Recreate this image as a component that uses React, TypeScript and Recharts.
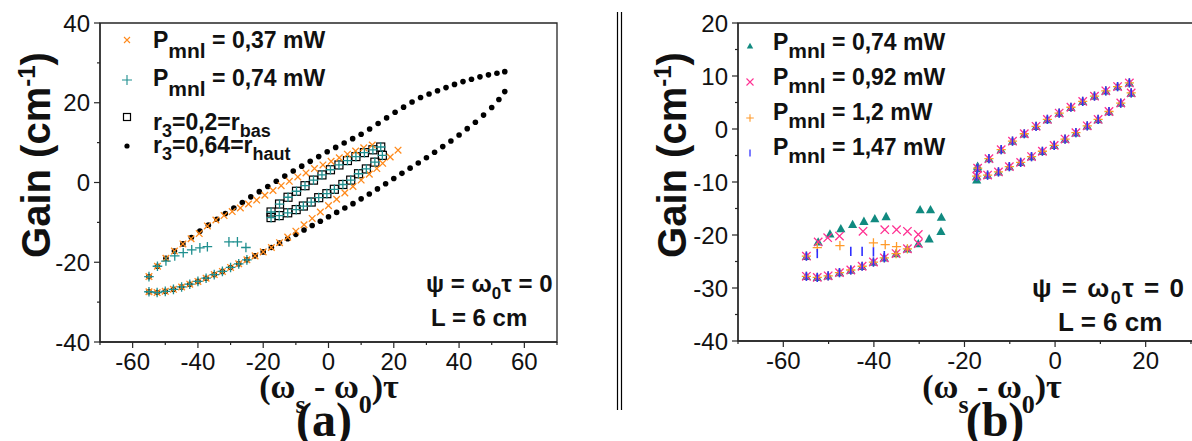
import React from 'react'
import { ScatterChart, Scatter, XAxis, YAxis, ReferenceArea, Legend } from 'recharts'

type Pt = [number, number]

// ---- panel (a) ----
const xTicksA = [-70, -60, -50, -40, -30, -20, -10, 0, 10, 20, 30, 40, 50, 60, 70]
const xMajorA = [-60, -40, -20, 0, 20, 40, 60]
const yTicksA = [-40, -30, -20, -10, 0, 10, 20, 30, 40]
const yMajorA = [-40, -20, 0, 20, 40]

// r3 = 0,64 = r_haut
const hautUpper: Pt[] = [
  [-55.0, -23.6], [-52.4, -21.0], [-49.8, -19.0], [-47.2, -17.2], [-44.6, -15.4], [-42.0, -13.8],
  [-39.4, -12.2], [-36.8, -10.7], [-34.2, -9.2], [-31.6, -7.8], [-29.0, -6.4], [-26.4, -5.0],
  [-23.8, -3.6], [-21.2, -2.3], [-18.6, -1.0], [-16.0, 0.3], [-13.4, 1.6], [-10.8, 2.9],
  [-8.2, 4.1], [-5.6, 5.3], [-3.0, 6.5], [-0.4, 7.7], [2.2, 8.8], [4.8, 9.9], [7.4, 11.0],
  [10.0, 12.1], [12.6, 13.4], [15.2, 14.8], [17.8, 16.2], [20.4, 17.6], [23.0, 18.9], [25.6, 20.2],
  [28.2, 21.3], [30.8, 22.2], [33.4, 23.0], [36.0, 23.8], [38.6, 24.6], [41.2, 25.3], [43.8, 25.9],
  [46.4, 26.5], [49.0, 27.0], [51.6, 27.4], [54.0, 27.8],
]
const hautLower: Pt[] = [
  [-55.0, -27.4], [-52.5, -27.6], [-50.0, -27.3], [-47.5, -26.8], [-45.0, -26.2], [-42.5, -25.5],
  [-40.0, -24.8], [-37.5, -24.0], [-35.0, -23.1], [-32.5, -22.3], [-30.0, -21.3], [-27.5, -20.4],
  [-25.0, -19.4], [-22.5, -18.4], [-20.0, -17.4], [-17.5, -16.3], [-15.0, -15.2], [-12.5, -14.1],
  [-10.0, -13.0], [-7.5, -11.9], [-5.0, -10.8], [-2.5, -9.7], [0.0, -8.6], [2.5, -7.5], [5.0, -6.4],
  [7.5, -5.3], [10.0, -4.1], [12.5, -2.9], [15.0, -1.6], [17.5, -0.3], [20.0, 1.0], [22.5, 2.3],
  [25.0, 3.6], [27.5, 4.9], [30.0, 6.2], [32.5, 7.6], [35.0, 9.0], [37.5, 10.4], [40.0, 11.9],
  [42.5, 13.5], [45.0, 15.1], [47.5, 16.9], [50.0, 18.8], [52.2, 20.8], [54.0, 22.8],
]

// r3 = 0,2 = r_bas
const basUpper: Pt[] = [
  [-17.6, -7.4], [-15.0, -5.4], [-12.4, -3.7], [-9.8, -2.2], [-7.2, -0.8], [-4.6, 0.6], [-2.0, 1.9],
  [0.6, 3.2], [3.2, 4.4], [5.8, 5.5], [8.4, 6.5], [11.0, 7.5], [13.6, 8.2], [16.0, 8.9],
]
const basLower: Pt[] = [
  [-17.6, -8.8], [-15.1, -8.3], [-12.5, -7.6], [-9.9, -6.8], [-7.7, -5.9], [-5.3, -4.9], [-3.0, -3.8],
  [-0.5, -2.8], [1.8, -1.7], [4.4, -0.5], [6.8, 0.6], [9.2, 2.2], [11.6, 3.4], [14.2, 5.1], [16.5, 6.8],
]

// Pmnl = 0,37 mW
const p037Upper: Pt[] = [
  [-55.0, -23.6], [-52.4, -21.0], [-49.8, -19.0], [-47.2, -17.2], [-44.6, -15.4], [-42.1, -14.1],
  [-39.6, -12.8], [-37.1, -10.9], [-34.5, -9.4], [-32.0, -8.3], [-29.5, -7.3], [-27.0, -6.4],
  [-24.5, -5.4], [-22.0, -4.4], [-19.5, -3.2], [-17.0, -2.0], [-14.5, -0.8], [-12.0, 0.3],
  [-9.4, 1.4], [-6.9, 2.4], [-4.3, 3.5], [-1.7, 4.4], [0.8, 5.3], [3.3, 6.2], [5.8, 7.1],
  [8.3, 7.9], [10.8, 8.7], [13.4, 9.4],
]
const p037Lower: Pt[] = [
  [-55.0, -27.4], [-52.5, -27.6], [-50.0, -27.3], [-47.5, -26.8], [-45.0, -26.2], [-42.5, -25.5],
  [-40.0, -24.8], [-37.5, -24.0], [-35.0, -23.1], [-32.5, -22.3], [-30.0, -21.3], [-27.5, -20.4],
  [-25.0, -19.4], [-22.5, -18.4], [-20.0, -17.4], [-17.5, -16.3], [-15.0, -15.1], [-12.5, -13.7],
  [-10.0, -12.2], [-7.5, -10.6], [-5.0, -9.0], [-2.5, -7.4], [0.0, -5.8], [2.5, -4.2], [5.0, -2.6],
  [7.5, -1.0], [10.0, 0.6], [12.5, 2.1], [14.8, 3.5], [16.6, 4.8], [18.9, 6.4], [21.3, 8.1],
]

// Pmnl = 0,74 mW (left part; the loop on the right sits on the r_bas squares)
const p074Upper: Pt[] = [
  [-55.0, -23.6], [-52.4, -21.0], [-49.8, -19.7], [-47.1, -18.4], [-44.5, -17.6], [-41.9, -16.9],
  [-39.4, -16.4], [-37.1, -16.1], [-30.5, -14.9], [-27.9, -14.9], [-25.3, -16.3],
]
const p074Lower: Pt[] = [
  [-55.0, -27.4], [-52.5, -27.6], [-50.0, -27.3], [-47.5, -26.8], [-45.0, -26.2], [-42.5, -25.5],
  [-40.0, -24.8], [-37.5, -24.0], [-35.0, -23.1], [-32.5, -22.3], [-30.0, -21.3], [-27.5, -20.4],
  [-25.0, -19.4],
]

// ---- panel (b) ----
const xTicksB = [-70, -60, -50, -40, -30, -20, -10, 0, 10, 20, 30]
const xMajorB = [-60, -40, -20, 0, 20]
const yTicksB = [-40, -35, -30, -25, -20, -15, -10, -5, 0, 5, 10, 15, 20]
const yMajorB = [-40, -30, -20, -10, 0, 10, 20]

const bRow: Pt[] = [
  [-54.9, -24.0], [-54.9, -27.8], [-52.5, -28.0], [-50.1, -27.7], [-47.6, -27.1], [-45.1, -26.6],
  [-42.6, -25.9], [-40.1, -25.1], [-37.7, -24.3], [-35.1, -23.5], [-32.6, -22.6], [-30.2, -21.6],
]
const bLoopUpper: Pt[] = [
  [-17.1, -7.4], [-14.6, -5.6], [-11.9, -3.9], [-9.4, -2.3], [-6.8, -0.9], [-4.2, 0.5], [-1.7, 1.8],
  [0.9, 3.0], [3.5, 4.1], [6.1, 5.2], [8.7, 6.2], [11.2, 7.2], [13.8, 8.0], [16.4, 8.7],
]
const bLoopLower: Pt[] = [
  [-17.3, -8.9], [-14.9, -8.7], [-12.5, -8.1], [-10.1, -7.1], [-7.6, -6.3], [-5.2, -5.2], [-2.8, -4.2],
  [-0.2, -3.1], [2.2, -1.9], [4.6, -0.7], [7.1, 0.6], [9.5, 1.8], [11.9, 3.3], [14.5, 4.9], [16.8, 6.8],
]
const b074Own: Pt[] = [
  [-52.3, -21.3], [-49.7, -19.8], [-47.3, -18.8], [-44.7, -18.0], [-42.2, -17.4], [-39.8, -16.9],
  [-37.3, -16.5], [-29.8, -15.2], [-27.5, -15.2], [-25.1, -16.6], [-27.8, -20.7], [-25.2, -19.3],
  [-17.1, -7.0], [-17.3, -9.6],
]
const b092Own: Pt[] = [
  [-52.3, -21.3], [-50.2, -20.5], [-47.6, -20.2], [-42.4, -19.3], [-37.6, -19.0], [-35.0, -19.0],
  [-32.6, -19.3], [-30.2, -19.9],
]
const b120Own: Pt[] = [[-52.5, -22.4], [-47.5, -22.0], [-40.1, -21.5], [-37.5, -21.8], [-35.0, -22.2]]
const b147Own: Pt[] = [[-52.5, -23.5], [-45.1, -23.1], [-42.6, -23.1], [-40.1, -23.2], [-37.7, -23.9]]

const pts = (a: Pt[]) => a.map(([x, y]) => ({ x, y }))

const AX = '#262626'
const INK = '#111'
const SANS = "'Liberation Sans', Arial, Helvetica, sans-serif"
const SERIF = "'Liberation Serif', 'Times New Roman', serif"

const ORANGE_A = '#ff8a1c'
const TEAL_A = '#1f8f8f'
const TEAL_B = '#118a80'
const PINK_B = '#ff3092'
const ORANGE_B = '#ff9a2a'
const BLUE_B = '#2e2eff'

// ---- markers ----
const XMark = ({ cx, cy, r, color, w = 1.3 }: any) => (
  <path d={`M${cx - r},${cy - r}L${cx + r},${cy + r}M${cx - r},${cy + r}L${cx + r},${cy - r}`} stroke={color} strokeWidth={w} fill="none" />
)
const PlusMark = ({ cx, cy, r, color, w = 1.3 }: any) => (
  <path d={`M${cx - r},${cy}L${cx + r},${cy}M${cx},${cy - r}L${cx},${cy + r}`} stroke={color} strokeWidth={w} fill="none" />
)
const SquareMark = ({ cx, cy, r }: any) => (
  <rect x={cx - r} y={cy - r} width={2 * r} height={2 * r} stroke="#000" strokeWidth={1.2} fill="none" />
)
const DotMark = ({ cx, cy, r }: any) => <circle cx={cx} cy={cy} r={r} fill="#000" />
const TriMark = ({ cx, cy, r, color }: any) => (
  <path d={`M${cx},${cy - r}L${cx + r},${cy + r * 0.8}L${cx - r},${cy + r * 0.8}Z`} fill={color} />
)
const BarMark = ({ cx, cy, r, color }: any) => (
  <path d={`M${cx},${cy - r}L${cx},${cy + r}`} stroke={color} strokeWidth={1.6} />
)

// ---- ticks (minor ticks drawn shorter, no label) ----
const XTick = ({ x, y, payload, majors }: any) => {
  const major = majors.includes(payload.value)
  return (
    <g>
      <line x1={x} x2={x} y1={y} y2={y + (major ? 6 : 3)} stroke={AX} strokeWidth={1.2} />
      {major && (
        <text x={x} y={y + 28} textAnchor="middle" fontSize={24} fontFamily={SANS} fill={INK}>
          {payload.value}
        </text>
      )}
    </g>
  )
}
const YTick = ({ x, y, payload, majors }: any) => {
  const major = majors.includes(payload.value)
  return (
    <g>
      <line x1={x - (major ? 6 : 3)} x2={x} y1={y} y2={y} stroke={AX} strokeWidth={1.2} />
      {major && (
        <text x={x - 10} y={y + 8.5} textAnchor="end" fontSize={24} fontFamily={SANS} fill={INK}>
          {payload.value}
        </text>
      )}
    </g>
  )
}

const lg = { fontFamily: SANS, fontWeight: 700, fontSize: 23, fill: INK, style: { whiteSpace: 'pre' as const } }

const LegendA = () => (
  <svg width={420} height={200} style={{ overflow: 'visible' }}>
    <XMark cx={127} cy={40} r={3} color={ORANGE_A} w={1.1} />
    <text x={153} y={48} {...lg}>P<tspan dy={10} fontSize={21}>mnl</tspan><tspan dy={-10}> = 0,37 mW</tspan></text>
    <PlusMark cx={127} cy={80} r={5} color={TEAL_A} w={1.1} />
    <text x={153} y={86} {...lg}>P<tspan dy={10} fontSize={21}>mnl</tspan><tspan dy={-10}> = 0,74 mW</tspan></text>
    <SquareMark cx={127} cy={117} r={3.5} />
    <text x={153} y={130} {...lg}>r<tspan dy={7} fontSize={18}>3</tspan><tspan dy={-7}>=0,2=r</tspan><tspan dy={7} fontSize={18}>bas</tspan></text>
    <DotMark cx={127} cy={146} r={2.6} />
    <text x={153} y={153} {...lg}>r<tspan dy={7} fontSize={18}>3</tspan><tspan dy={-7}>=0,64=r</tspan><tspan dy={7} fontSize={18}>haut</tspan></text>
  </svg>
)

// legend of (b), coordinates relative to the right chart (which starts at x = 620)
const LegendB = () => (
  <svg width={420} height={200} style={{ overflow: 'visible' }}>
    <TriMark cx={130} cy={46} r={3.2} color={TEAL_B} />
    <text x={153} y={50} {...lg}>P<tspan dy={8} fontSize={21}>mnl</tspan><tspan dy={-8}> = 0,74 mW</tspan></text>
    <XMark cx={130} cy={82} r={3.5} color={PINK_B} w={1.1} />
    <text x={153} y={85} {...lg}>P<tspan dy={8} fontSize={21}>mnl</tspan><tspan dy={-8}> = 0,92 mW</tspan></text>
    <PlusMark cx={130} cy={118} r={3.8} color={ORANGE_B} w={1.1} />
    <text x={153} y={120} {...lg}>P<tspan dy={8} fontSize={21}>mnl</tspan><tspan dy={-8}> = 1,2 mW</tspan></text>
    <BarMark cx={130} cy={153} r={3.5} color="#5a5aff" />
    <text x={153} y={155} {...lg}>P<tspan dy={8} fontSize={21}>mnl</tspan><tspan dy={-8}> = 1,47 mW</tspan></text>
  </svg>
)

const axisLine = { stroke: AX, strokeWidth: 1.3 }

export default function App() {
  const ann = { fontFamily: SANS, fontWeight: 700, fill: INK, style: { whiteSpace: 'pre' as const } }
  const ttl = { fontFamily: SERIF, fontWeight: 700, fill: INK }
  return (
    <div style={{ position: 'absolute', left: 0, top: 0, width: 1192, height: 441, overflow: 'hidden', background: '#fff' }}>
      <div style={{ position: 'absolute', left: 0, top: 0 }}>
        <ScatterChart width={600} height={441} margin={{ top: 23, right: 43, bottom: 69, left: 60 }}>
          <XAxis type="number" dataKey="x" domain={[-70, 70]} ticks={xTicksA} interval={0} height={30}
            tickSize={0} tickMargin={0} tickLine={false} axisLine={axisLine} allowDataOverflow
            tick={(p: any) => <XTick {...p} majors={xMajorA} />} />
          <YAxis type="number" dataKey="y" domain={[-40, 40]} ticks={yTicksA} interval={0} width={40}
            tickSize={0} tickMargin={0} tickLine={false} axisLine={axisLine} allowDataOverflow
            tick={(p: any) => <YTick {...p} majors={yMajorA} />} />
          <ReferenceArea x1={-70} x2={70} y1={-40} y2={40} fill="none" stroke={AX} strokeWidth={1.3} />
          <Scatter data={pts([...hautUpper, ...hautLower])} isAnimationActive={false}
            shape={(p: any) => <DotMark cx={p.cx} cy={p.cy} r={2.8} />} />
          <Scatter data={pts([...basUpper, ...basLower])} isAnimationActive={false}
            shape={(p: any) => <SquareMark cx={p.cx} cy={p.cy} r={4} />} />
          <Scatter data={pts([...p037Upper, ...p037Lower])} isAnimationActive={false}
            shape={(p: any) => <XMark cx={p.cx} cy={p.cy} r={3.3} color={ORANGE_A} />} />
          <Scatter data={pts([...p074Upper, ...p074Lower, ...basUpper, ...basLower])} isAnimationActive={false}
            shape={(p: any) => <PlusMark cx={p.cx} cy={p.cy} r={4.8} color={TEAL_A} />} />
          <Legend layout="vertical" align="center" verticalAlign="middle"
            wrapperStyle={{ left: 0, top: 0, width: 420, height: 200 }} content={() => <LegendA />} />
        </ScatterChart>
      </div>

      <div style={{ position: 'absolute', left: 620, top: 0 }}>
        <ScatterChart width={580} height={441} margin={{ top: 23, right: 4.5, bottom: 70, left: 78 }}>
          <XAxis type="number" dataKey="x" domain={[-70, 31]} ticks={xTicksB} interval={0} height={30}
            tickSize={0} tickMargin={0} tickLine={false} axisLine={axisLine} allowDataOverflow
            tick={(p: any) => <XTick {...p} majors={xMajorB} />} />
          <YAxis type="number" dataKey="y" domain={[-40, 20]} ticks={yTicksB} interval={0} width={40}
            tickSize={0} tickMargin={0} tickLine={false} axisLine={axisLine} allowDataOverflow
            tick={(p: any) => <YTick {...p} majors={yMajorB} />} />
          <ReferenceArea x1={-70} x2={31} y1={-40} y2={20} fill="none" stroke={AX} strokeWidth={1.3} />
          <Scatter data={pts([...bRow, ...b074Own, ...bLoopUpper, ...bLoopLower])} isAnimationActive={false}
            shape={(p: any) => <TriMark cx={p.cx} cy={p.cy} r={4.6} color={TEAL_B} />} />
          <Scatter data={pts([...bRow, ...b092Own, ...bLoopUpper, ...bLoopLower])} isAnimationActive={false}
            shape={(p: any) => <XMark cx={p.cx} cy={p.cy} r={4.2} color={PINK_B} />} />
          <Scatter data={pts([...bRow.slice(0, 11), ...b120Own, ...bLoopUpper, ...bLoopLower])} isAnimationActive={false}
            shape={(p: any) => <PlusMark cx={p.cx} cy={p.cy} r={4.6} color={ORANGE_B} />} />
          <Scatter data={pts([...bRow.slice(0, 9), ...b147Own, ...bLoopUpper, ...bLoopLower])} isAnimationActive={false}
            shape={(p: any) => <BarMark cx={p.cx} cy={p.cy} r={4.6} color={BLUE_B} />} />
          <Legend layout="vertical" align="center" verticalAlign="middle"
            wrapperStyle={{ left: 0, top: 0, width: 420, height: 200 }} content={() => <LegendB />} />
        </ScatterChart>
      </div>

      <svg width={1192} height={441} style={{ position: 'absolute', left: 0, top: 0, pointerEvents: 'none' }}>
        {/* separator */}
        <line x1={617.5} x2={617.5} y1={12} y2={410} stroke="#000" strokeWidth={1.2} />
        <line x1={621.5} x2={621.5} y1={12} y2={410} stroke="#000" strokeWidth={1.2} />

        {/* y titles */}
        <text transform="translate(50,155) rotate(-90)" textAnchor="middle" fontFamily={SANS} fontWeight={700} fontSize={40} fill={INK}>
          Gain (cm<tspan dy={-15} fontSize={24}>-1</tspan><tspan dy={15}>)</tspan>
        </text>
        <text transform="translate(686,155) rotate(-90)" textAnchor="middle" fontFamily={SANS} fontWeight={700} fontSize={40} fill={INK}>
          Gain (cm<tspan dy={-15} fontSize={24}>-1</tspan><tspan dy={15}>)</tspan>
        </text>

        {/* x titles */}
        <text x={329} y={398} textAnchor="middle" fontSize={34} {...ttl} style={{ whiteSpace: 'pre' }}>
          (ω<tspan dy={15} fontSize={26}>s</tspan><tspan dy={-15}> - ω</tspan><tspan dy={15} fontSize={26}>0</tspan><tspan dy={-15}>)τ</tspan>
        </text>
        <text x={324} y={436} textAnchor="middle" fontSize={48} {...ttl}>(a)</text>
        <text x={992} y={398} textAnchor="middle" fontSize={34} {...ttl} style={{ whiteSpace: 'pre' }}>
          (ω<tspan dy={15} fontSize={26}>s</tspan><tspan dy={-15}> - ω</tspan><tspan dy={15} fontSize={26}>0</tspan><tspan dy={-15}>)τ</tspan>
        </text>
        <text x={995} y={436} textAnchor="middle" fontSize={48} {...ttl}>(b)</text>

        {/* annotations */}
        <text x={426} y={292} fontSize={24} {...ann}>ψ = ω<tspan dy={7} fontSize={17}>0</tspan><tspan dy={-7}>τ = 0</tspan></text>
        <text x={431} y={326} fontSize={24} {...ann}>L = 6 cm</text>
        <text x={1032} y={297} fontSize={26} textLength={152} lengthAdjust="spacing" {...ann}>ψ = ω<tspan dy={7} fontSize={18}>0</tspan><tspan dy={-7}>τ = 0</tspan></text>
        <text x={1058} y={331} fontSize={26} {...ann}>L = 6 cm</text>
      </svg>
    </div>
  )
}
